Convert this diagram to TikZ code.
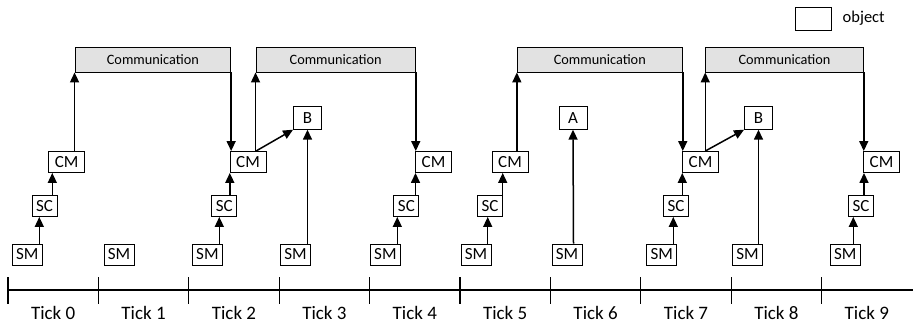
\documentclass[tikz,border=0pt]{standalone}
\usepackage{fontspec}
\setmainfont{Carlito}
\usetikzlibrary{arrows.meta}
\definecolor{commgray}{RGB}{226,226,226}
\begin{document}
\begin{tikzpicture}[x=1pt,y=-1pt,
  obj/.style={draw,line width=0.9pt,inner sep=0pt,minimum height=21pt,font=\fontsize{17}{17}\selectfont},
  smbox/.style={obj,minimum width=30pt},
  scbox/.style={obj,minimum width=25pt},
  cmbox/.style={obj,minimum width=36pt},
  evbox/.style={obj,minimum width=28pt,minimum height=22.5pt},
  commbox/.style={draw,line width=0.9pt,fill=commgray,inner sep=0pt,minimum height=25pt,font=\fontsize{14.3}{14.3}\selectfont},
  arr/.style={line width=1.5pt,-{Triangle[length=10pt,width=9pt]}},
  axis/.style={line width=1.2pt},
  ticklabel/.style={font=\fontsize{19}{19}\selectfont,anchor=base,inner sep=0pt}]
\useasboundingbox (0,0) rectangle (916,324);

% legend
\node[draw,line width=0.9pt,minimum width=36.5pt,minimum height=22.5pt,inner sep=0pt] (leg) at (813.4,18.7) {};
\node[anchor=west,font=\fontsize{16.5}{16.5}\selectfont,inner sep=0pt] (legt) at (842.5,18.5) {object};

% communication boxes
\node[commbox,minimum width=155.7pt] (c1) at (152.85,59.5) {Communication};
\node[commbox,minimum width=159.3pt] (c2) at (335.65,59.5) {Communication};
\node[commbox,minimum width=165pt] (c3) at (599.8,59.5) {Communication};
\node[commbox,minimum width=157.6pt] (c4) at (784.5,59.5) {Communication};

% tick 0
\node[smbox] (sm0) at (27.2,254.5) {SM};
\node[scbox] (sc0) at (44.5,206) {SC};
\node[cmbox] (cm0) at (66.7,162) {CM};
% tick 1
\node[smbox] (sm1) at (119,254.5) {SM};
% tick 2
\node[smbox] (sm2) at (207.4,254.5) {SM};
\node[scbox] (sc2) at (224.2,206) {SC};
\node[cmbox] (cm2) at (248,162) {CM};
% tick 3
\node[smbox] (sm3) at (295.5,254.5) {SM};
\node[evbox] (b3) at (307.5,118) {B};
% tick 4
\node[smbox] (sm4) at (385.4,254.5) {SM};
\node[scbox] (sc4) at (406.4,206) {SC};
\node[cmbox] (cm4) at (433.5,162) {CM};
% tick 5
\node[smbox] (sm5) at (476,254.5) {SM};
\node[scbox] (sc5) at (490,206) {SC};
\node[cmbox] (cm5) at (510,162) {CM};
% tick 6
\node[smbox] (sm6) at (567,254.5) {SM};
\node[evbox] (a6) at (573,118) {A};
% tick 7
\node[smbox] (sm7) at (661.7,254.5) {SM};
\node[scbox] (sc7) at (676,206) {SC};
\node[cmbox] (cm7) at (700.5,162) {CM};
% tick 8
\node[smbox] (sm8) at (747.5,254.5) {SM};
\node[evbox] (b8) at (758.5,118) {B};
% tick 9
\node[smbox] (sm9) at (845.3,254.5) {SM};
\node[scbox] (sc9) at (861,206) {SC};
\node[cmbox] (cm9) at (881.5,162) {CM};

% arrow columns
\coordinate (x0a) at (39.3,0);  \coordinate (x0b) at (52.3,0);
\coordinate (x2a) at (219.3,0); \coordinate (x2b) at (229.8,0); \coordinate (x2c) at (256,0);
\coordinate (x3) at (307.5,0);
\coordinate (x4a) at (397.3,0); \coordinate (x4b) at (415.5,0);
\coordinate (x5a) at (487.7,0); \coordinate (x5b) at (502.7,0);
\coordinate (x6) at (573.5,0);
\coordinate (x7a) at (673.3,0); \coordinate (x7b) at (682.3,0);
\coordinate (x8) at (758.5,0);
\coordinate (x9a) at (853.3,0); \coordinate (x9b) at (864,0);

% chain arrows
\draw[arr] (sm0.north -| x0a) -- (sc0.south -| x0a);
\draw[arr] (sc0.north -| x0b) -- (cm0.south -| x0b);
\draw[arr] (cm0.north -| c1.south west) -- (c1.south west);
\draw[arr] (c1.south east) -- (cm2.north -| c1.south east);

\draw[arr] (sm2.north -| x2a) -- (sc2.south -| x2a);
\draw[arr] (sc2.north -| x2b) -- (cm2.south -| x2b);
\draw[arr] (cm2.north -| c2.south west) -- (c2.south west);
\draw[arr] (cm2.north -| x2c) -- (b3.south west);
\draw[arr] (sm3.north -| x3) -- (b3.south);

\draw[arr] (sm4.north -| x4a) -- (sc4.south -| x4a);
\draw[arr] (sc4.north -| x4b) -- (cm4.south -| x4b);
\draw[arr] (c2.south east) -- (cm4.north -| c2.south east);

\draw[arr] (sm5.north -| x5a) -- (sc5.south -| x5a);
\draw[arr] (sc5.north -| x5b) -- (cm5.south -| x5b);
\draw[arr] (cm5.north -| c3.south west) -- (c3.south west);

\draw[arr] (sm6.north -| x6) -- (a6.south);

\draw[arr] (sm7.north -| x7a) -- (sc7.south -| x7a);
\draw[arr] (sc7.north -| x7b) -- (cm7.south -| x7b);
\draw[arr] (c3.south east) -- (cm7.north -| c3.south east);
\draw[arr] (cm7.north -| c4.south west) -- (c4.south west);
\draw[arr] (cm7.north -| c4.south west) -- (b8.south west);

\draw[arr] (sm8.north -| x8) -- (b8.south);

\draw[arr] (sm9.north -| x9a) -- (sc9.south -| x9a);
\draw[arr] (sc9.north -| x9b) -- (cm9.south -| x9b);
\draw[arr] (c4.south east) -- (cm9.north -| c4.south east);

% time axis
\coordinate (axs) at (8,290);
\coordinate (axe) at (913,290);
\draw[axis] (axs) -- (axe);
\foreach \i in {0,...,9} {
  \draw[axis] (8+90.4*\i,277) -- (8+90.4*\i,304);
  \node[ticklabel] (t\i) at (53.2+90.4*\i,319) {Tick \i};
}
\end{tikzpicture}
\end{document}
